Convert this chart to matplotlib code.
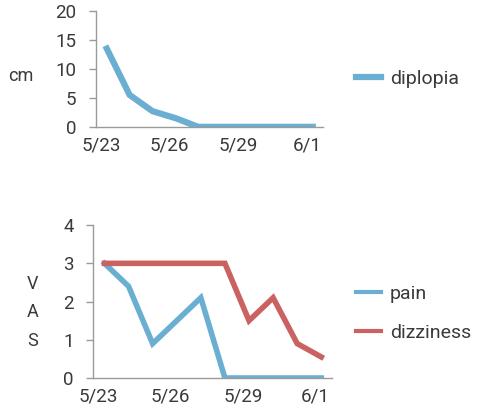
import matplotlib.pyplot as plt
import matplotlib.transforms as mtransforms

# Dates (one per day) and the labels shown on the axis
dates = ["5/23", "5/24", "5/25", "5/26", "5/27", "5/28", "5/29", "5/30", "5/31", "6/1"]
shown_labels = ["5/23", "5/26", "5/29", "6/1"]

diplopia = [13.5, 5.5, 2.7, 1.5, 0, 0, 0, 0, 0, 0]
pain = [3.0, 2.4, 0.9, 1.5, 2.1, 0, 0, 0, 0, 0]
dizziness = [3.0, 3.0, 3.0, 3.0, 3.0, 3.0, 1.5, 2.1, 0.9, 0.55]

BLUE = "#6aafd2"
RED = "#cb6262"
TEXT = "#3a3a3a"
AXIS = "#9a9a9a"

plt.rcParams["font.family"] = ["Roboto", "DejaVu Sans"]

fig = plt.figure(figsize=(4.8, 4.2), dpi=100)
ax1 = fig.add_axes([0.200, 0.698, 0.473, 0.276])
ax2 = fig.add_axes([0.194, 0.100, 0.498, 0.364])

x = list(range(len(dates)))
tick_pos = [dates.index(d) for d in shown_labels]


def style(ax):
    for side in ("top", "right"):
        ax.spines[side].set_visible(False)
    for side in ("left", "bottom"):
        ax.spines[side].set_color(AXIS)
        ax.spines[side].set_linewidth(1.0)
    ax.set_xlim(-0.47, 9.45)
    ax.set_xticks(tick_pos)
    ax.set_xticklabels(shown_labels)
    ax.tick_params(axis="x", length=0, pad=7, labelsize=13.5, colors=TEXT)
    ax.tick_params(axis="y", length=5, width=1, color=AXIS, labelsize=13.5,
                   labelcolor=TEXT, pad=9)
    # labels sit a little left of the data points, like the original
    offset = mtransforms.ScaledTranslation(-6 / 100, 0, fig.dpi_scale_trans)
    for lab in ax.get_xticklabels():
        lab.set_transform(lab.get_transform() + offset)


ax1.plot(x, diplopia, color=BLUE, lw=4.5, solid_joinstyle="miter", label="diplopia")
ax1.set_ylim(0, 20)
ax1.set_yticks([0, 5, 10, 15, 20])
style(ax1)
fig.text(0.017, 0.818, "cm", fontsize=13, color=TEXT, va="center")

ax2.plot(x, pain, color=BLUE, lw=4, solid_joinstyle="miter", label="pain")
ax2.plot(x, dizziness, color=RED, lw=4, solid_joinstyle="miter", label="dizziness")
ax2.set_ylim(0, 4)
ax2.set_yticks([0, 1, 2, 3, 4])
style(ax2)
fig.text(0.068, 0.256, "V\nA\nS", fontsize=13, color=TEXT, va="center",
         ha="center", linespacing=1.75)

leg1 = fig.legend(handles=ax1.get_lines(), loc="center left",
                  bbox_to_anchor=(0.705, 0.812), frameon=False, fontsize=14,
                  handlelength=1.3, handletextpad=0.45, labelcolor=TEXT)
leg2 = fig.legend(handles=ax2.get_lines(), loc="center left",
                  bbox_to_anchor=(0.705, 0.254), frameon=False, fontsize=14,
                  handlelength=1.3, handletextpad=0.45, labelspacing=1.1,
                  labelcolor=TEXT)
for line in leg2.get_lines():
    line.set_linewidth(3)

fig.savefig("out.png", dpi=100)
